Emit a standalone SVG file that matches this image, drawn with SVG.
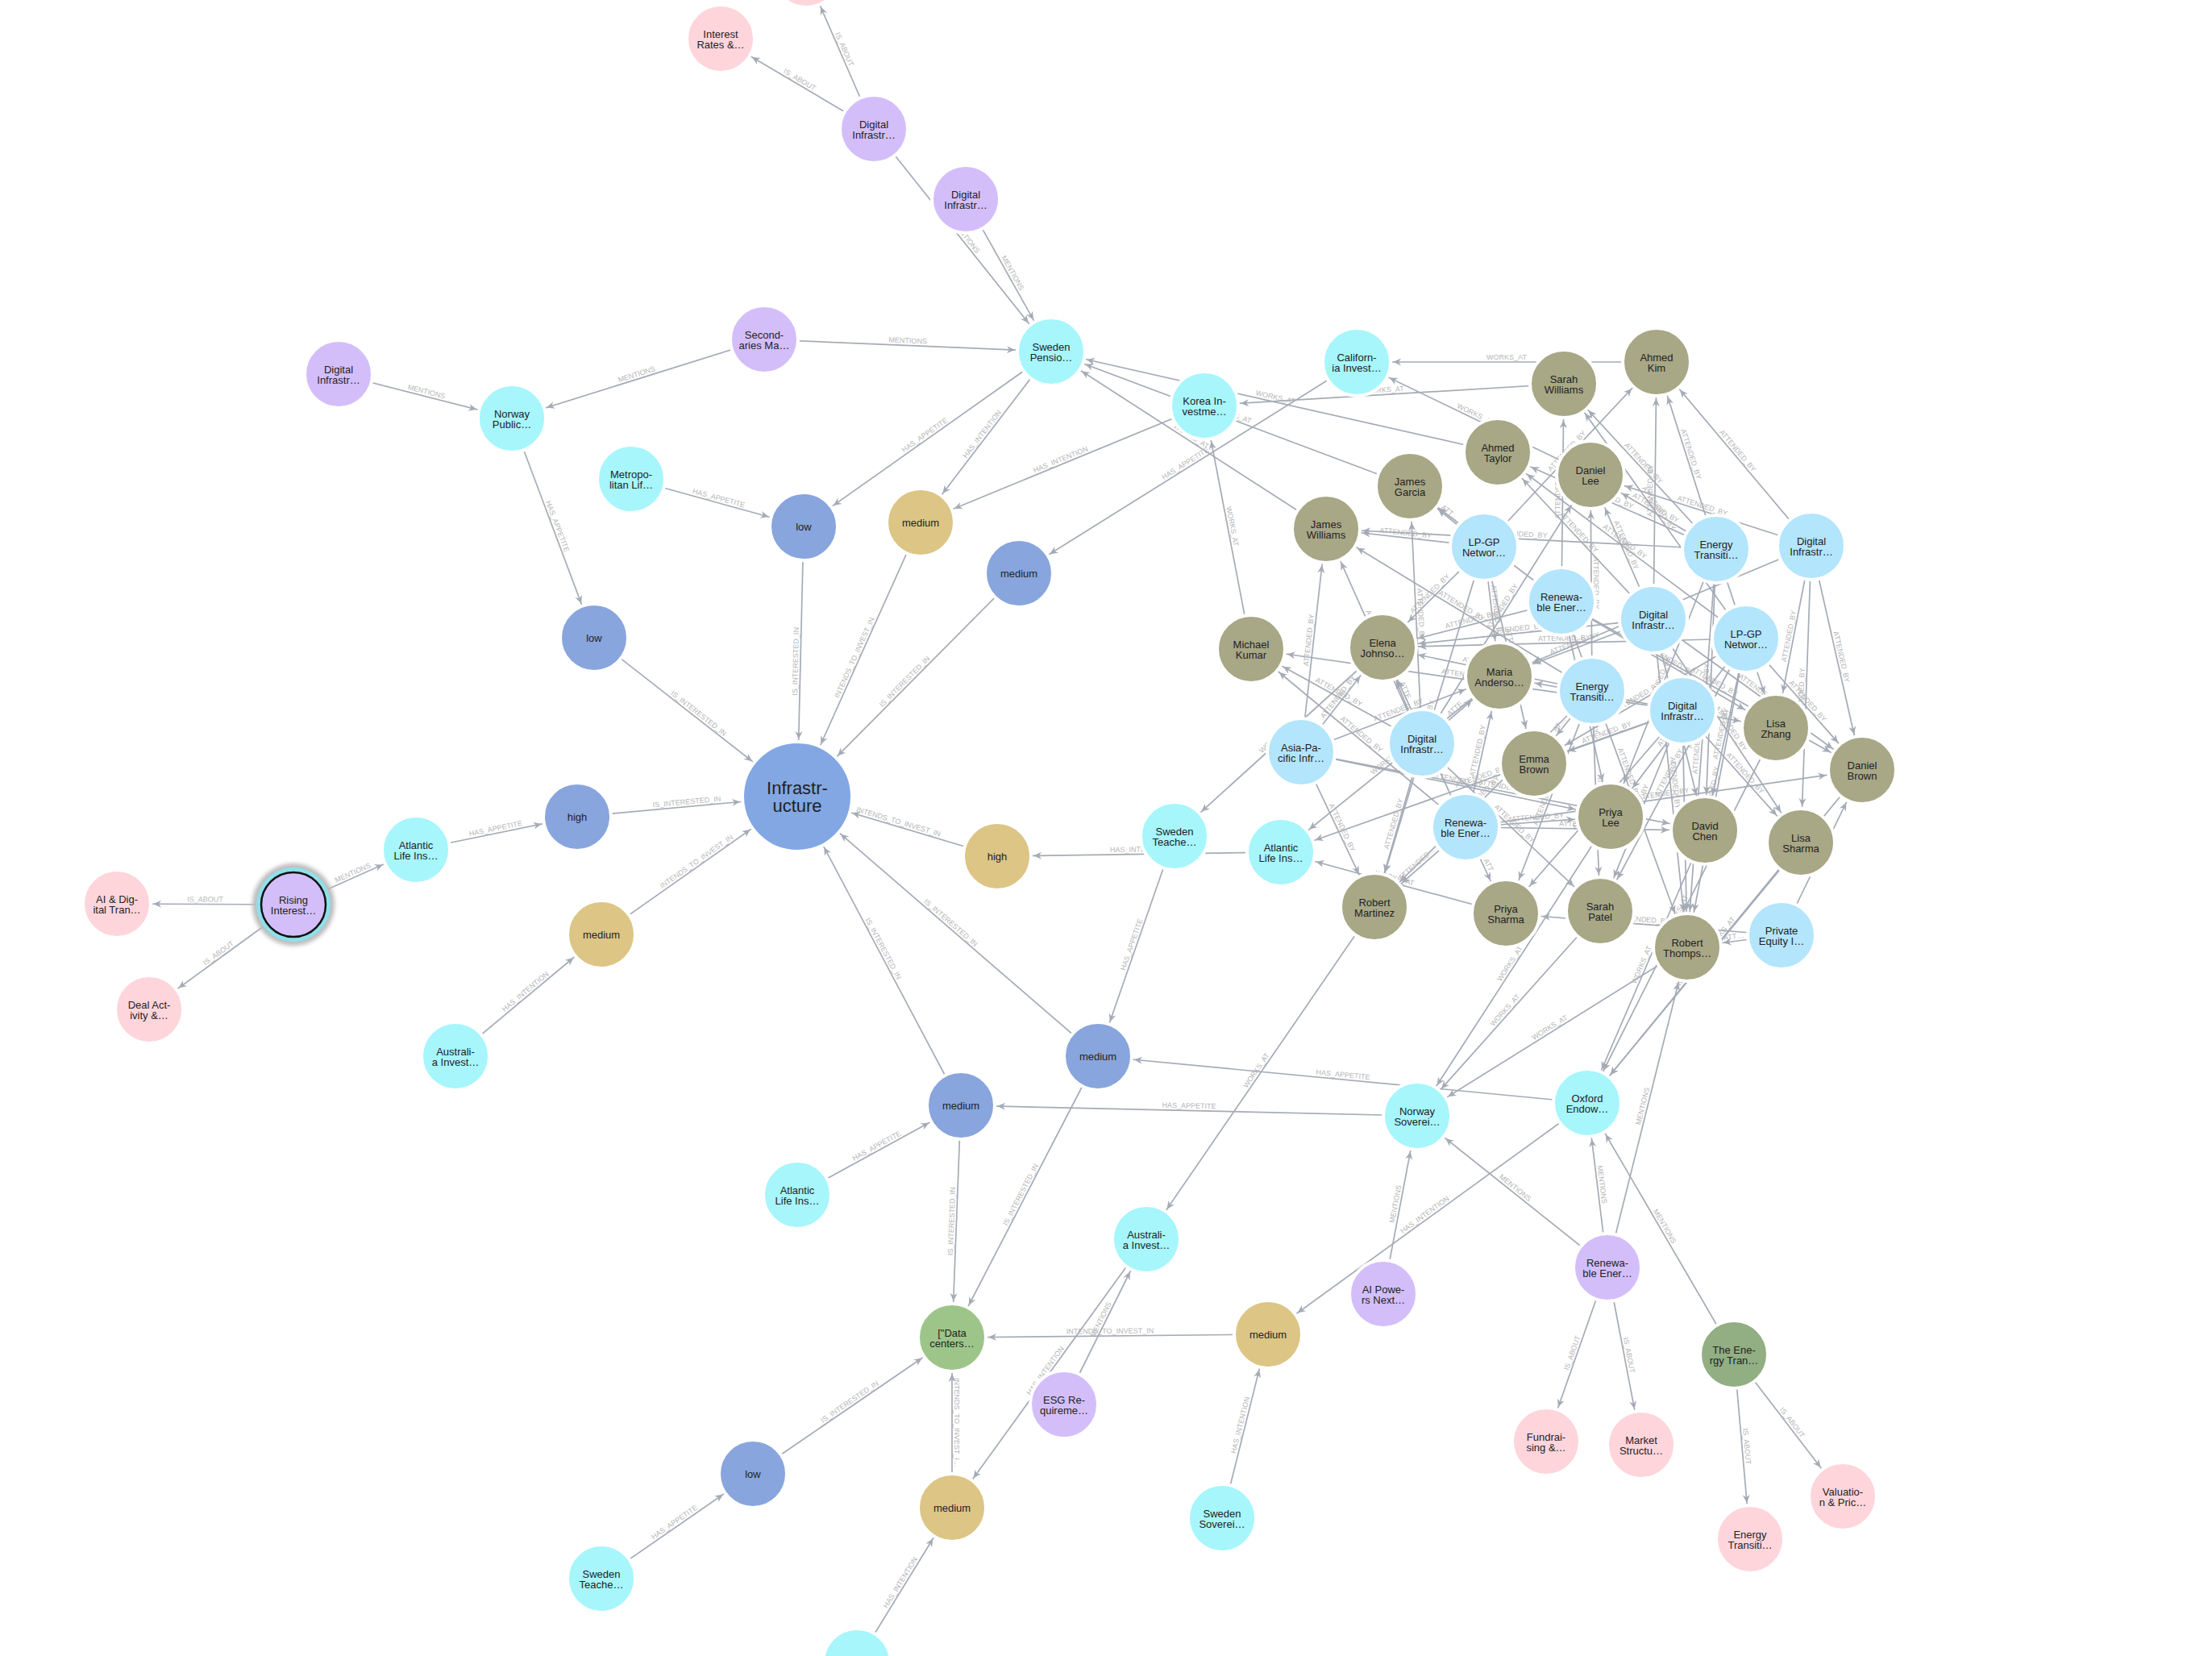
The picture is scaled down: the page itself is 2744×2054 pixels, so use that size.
<svg xmlns="http://www.w3.org/2000/svg" width="2744" height="2054" viewBox="0 0 2744 2054">
<style>
.e{stroke:#a5abb6;stroke-width:1.7;fill:none}
.l{font-family:"Liberation Sans",Arial,sans-serif;font-size:9px;fill:#b5b5b5;text-anchor:middle}
.t{font-family:"Liberation Sans",Arial,sans-serif;font-size:13px;fill:#222;text-anchor:middle;dominant-baseline:central}
.ti{font-family:"Liberation Sans",Arial,sans-serif;font-size:22px;fill:#222;text-anchor:middle;dominant-baseline:central}
.c{stroke:#fff;stroke-width:4}
.pk{fill:#ffd5dc}.pu{fill:#d3befa}.cy{fill:#a6f6fc}.lb{fill:#b3e5fc}.ol{fill:#a8a786}.bl{fill:#88a5dd}.go{fill:#dcc585}.gr{fill:#9dc58a}.dg{fill:#92ae83}.inf{fill:#82a7e3}
</style>
<defs>
<marker id="a" markerUnits="userSpaceOnUse" orient="auto" overflow="visible" markerWidth="1" markerHeight="1"><path d="M-45,0 L-55,-4.5 L-52,0 L-55,4.5 Z" fill="#a5abb6"/></marker>
<marker id="s" markerUnits="userSpaceOnUse" orient="auto" overflow="visible" markerWidth="1" markerHeight="1"><path d="M45,0 L55,-4.5 L52,0 L55,4.5 Z" fill="#a5abb6"/></marker>
<marker id="b" markerUnits="userSpaceOnUse" orient="auto" overflow="visible" markerWidth="1" markerHeight="1"><path d="M-71,0 L-81,-4.5 L-78,0 L-81,4.5 Z" fill="#a5abb6"/></marker>
<marker id="bs" markerUnits="userSpaceOnUse" orient="auto" overflow="visible" markerWidth="1" markerHeight="1"><path d="M71,0 L81,-4.5 L78,0 L81,4.5 Z" fill="#a5abb6"/></marker>
<filter id="glow" x="-50%" y="-50%" width="200%" height="200%"><feGaussianBlur stdDeviation="2.5"/></filter>
</defs>
<rect width="2744" height="2054" fill="#fff"/>
<g id="connectors">
<path id="e1" class="e" d="M1000 -33 L1084 160" marker-start="url(#s)"/><text class="l" dy="-3"><textPath href="#e1" startOffset="50%">IS_ABOUT</textPath></text>
<path id="e2" class="e" d="M894 48 L1084 160" marker-start="url(#s)"/><text class="l" dy="-3"><textPath href="#e2" startOffset="50%">IS_ABOUT</textPath></text>
<path id="e3" class="e" d="M1084 160 L1304 436" marker-end="url(#a)"/><text class="l" dy="-3"><textPath href="#e3" startOffset="50%">MENTIONS</textPath></text>
<path id="e4" class="e" d="M1198 247 L1304 436" marker-end="url(#a)"/><text class="l" dy="-3"><textPath href="#e4" startOffset="50%">MENTIONS</textPath></text>
<path id="e5" class="e" d="M948 421 L1304 436" marker-end="url(#a)"/><text class="l" dy="-3"><textPath href="#e5" startOffset="50%">MENTIONS</textPath></text>
<path id="e6" class="e" d="M635 519 L948 421" marker-start="url(#s)"/><text class="l" dy="-3"><textPath href="#e6" startOffset="50%">MENTIONS</textPath></text>
<path id="e7" class="e" d="M420 464 L635 519" marker-end="url(#a)"/><text class="l" dy="-3"><textPath href="#e7" startOffset="50%">MENTIONS</textPath></text>
<path id="e8" class="e" d="M635 519 L737 791" marker-end="url(#a)"/><text class="l" dy="-3"><textPath href="#e8" startOffset="50%">HAS_APPETITE</textPath></text>
<path id="e9" class="e" d="M783 594 L997 653" marker-end="url(#a)"/><text class="l" dy="-3"><textPath href="#e9" startOffset="50%">HAS_APPETITE</textPath></text>
<path id="e10" class="e" d="M997 653 L1304 436" marker-start="url(#s)"/><text class="l" dy="-3"><textPath href="#e10" startOffset="50%">HAS_APPETITE</textPath></text>
<path id="e11" class="e" d="M1142 648 L1304 436" marker-start="url(#s)"/><text class="l" dy="-3"><textPath href="#e11" startOffset="50%">HAS_INTENTION</textPath></text>
<path id="e12" class="e" d="M1142 648 L1494 503" marker-start="url(#s)"/><text class="l" dy="-3"><textPath href="#e12" startOffset="50%">HAS_INTENTION</textPath></text>
<path id="e13" class="e" d="M1264 711 L1683 449" marker-start="url(#s)"/><text class="l" dy="-3"><textPath href="#e13" startOffset="50%">HAS_APPETITE</textPath></text>
<path id="e14" class="e" d="M989 988 L997 653" marker-start="url(#bs)"/><text class="l" dy="-3"><textPath href="#e14" startOffset="50%">IS_INTERESTED_IN</textPath></text>
<path id="e15" class="e" d="M989 988 L1142 648" marker-start="url(#bs)"/><text class="l" dy="-3"><textPath href="#e15" startOffset="50%">INTENDS_TO_INVEST_IN</textPath></text>
<path id="e16" class="e" d="M989 988 L1264 711" marker-start="url(#bs)"/><text class="l" dy="-3"><textPath href="#e16" startOffset="50%">IS_INTERESTED_IN</textPath></text>
<path id="e17" class="e" d="M737 791 L989 988" marker-end="url(#b)"/><text class="l" dy="-3"><textPath href="#e17" startOffset="50%">IS_INTERESTED_IN</textPath></text>
<path id="e18" class="e" d="M716 1013 L989 988" marker-end="url(#b)"/><text class="l" dy="-3"><textPath href="#e18" startOffset="50%">IS_INTERESTED_IN</textPath></text>
<path id="e19" class="e" d="M746 1159 L989 988" marker-end="url(#b)"/><text class="l" dy="-3"><textPath href="#e19" startOffset="50%">INTENDS_TO_INVEST_IN</textPath></text>
<path id="e20" class="e" d="M989 988 L1237 1062" marker-start="url(#bs)"/><text class="l" dy="-3"><textPath href="#e20" startOffset="50%">INTENDS_TO_INVEST_IN</textPath></text>
<path id="e21" class="e" d="M1237 1062 L1589 1057" marker-start="url(#s)"/><text class="l" dy="-3"><textPath href="#e21" startOffset="50%">HAS_INTENTION</textPath></text>
<path id="e22" class="e" d="M1362 1310 L1457 1037" marker-start="url(#s)"/><text class="l" dy="-3"><textPath href="#e22" startOffset="50%">HAS_APPETITE</textPath></text>
<path id="e23" class="e" d="M1457 1037 L1715 803" marker-start="url(#s)"/><text class="l" dy="-3"><textPath href="#e23" startOffset="50%">WORKS_AT</textPath></text>
<path id="e24" class="e" d="M989 988 L1362 1310" marker-start="url(#bs)"/><text class="l" dy="-3"><textPath href="#e24" startOffset="50%">IS_INTERESTED_IN</textPath></text>
<path id="e25" class="e" d="M989 988 L1192 1371" marker-start="url(#bs)"/><text class="l" dy="-3"><textPath href="#e25" startOffset="50%">IS_INTERESTED_IN</textPath></text>
<path id="e26" class="e" d="M989 1482 L1192 1371" marker-end="url(#a)"/><text class="l" dy="-3"><textPath href="#e26" startOffset="50%">HAS_APPETITE</textPath></text>
<path id="e27" class="e" d="M1181 1659 L1192 1371" marker-start="url(#s)"/><text class="l" dy="-3"><textPath href="#e27" startOffset="50%">IS_INTERESTED_IN</textPath></text>
<path id="e28" class="e" d="M1181 1659 L1362 1310" marker-start="url(#s)"/><text class="l" dy="-3"><textPath href="#e28" startOffset="50%">IS_INTERESTED_IN</textPath></text>
<path id="e29" class="e" d="M1181 1659 L1573 1655" marker-start="url(#s)"/><text class="l" dy="-3"><textPath href="#e29" startOffset="50%">INTENDS_TO_INVEST_IN</textPath></text>
<path id="e30" class="e" d="M1516 1883 L1573 1655" marker-end="url(#a)"/><text class="l" dy="-3"><textPath href="#e30" startOffset="50%">HAS_INTENTION</textPath></text>
<path id="e31" class="e" d="M934 1828 L1181 1659" marker-end="url(#a)"/><text class="l" dy="-3"><textPath href="#e31" startOffset="50%">IS_INTERESTED_IN</textPath></text>
<path id="e32" class="e" d="M746 1958 L934 1828" marker-end="url(#a)"/><text class="l" dy="-3"><textPath href="#e32" startOffset="50%">HAS_APPETITE</textPath></text>
<path id="e33" class="e" d="M1181 1659 L1181 1870" marker-start="url(#s)"/><text class="l" dy="-3"><textPath href="#e33" startOffset="50%">INTENDS_TO_INVEST_I…</textPath></text>
<path id="e34" class="e" d="M1063 2062 L1181 1870" marker-end="url(#a)"/><text class="l" dy="-3"><textPath href="#e34" startOffset="50%">HAS_INTENTION</textPath></text>
<path id="e35" class="e" d="M1181 1870 L1422 1537" marker-start="url(#s)"/><text class="l" dy="-3"><textPath href="#e35" startOffset="50%">HAS_INTENTION</textPath></text>
<path id="e36" class="e" d="M1320 1742 L1422 1537" marker-end="url(#a)"/><text class="l" dy="-3"><textPath href="#e36" startOffset="50%">MENTIONS</textPath></text>
<path id="e37" class="e" d="M1422 1537 L1705 1125" marker-start="url(#s)"/><text class="l" dy="-3"><textPath href="#e37" startOffset="50%">WORKS_AT</textPath></text>
<path id="e38" class="e" d="M145 1121 L364 1122" marker-start="url(#s)"/><text class="l" dy="-3"><textPath href="#e38" startOffset="50%">IS_ABOUT</textPath></text>
<path id="e39" class="e" d="M185 1252 L364 1122" marker-start="url(#s)"/><text class="l" dy="-3"><textPath href="#e39" startOffset="50%">IS_ABOUT</textPath></text>
<path id="e40" class="e" d="M364 1122 L516 1054" marker-end="url(#a)"/><text class="l" dy="-3"><textPath href="#e40" startOffset="50%">MENTIONS</textPath></text>
<path id="e41" class="e" d="M516 1054 L716 1013" marker-end="url(#a)"/><text class="l" dy="-3"><textPath href="#e41" startOffset="50%">HAS_APPETITE</textPath></text>
<path id="e42" class="e" d="M565 1310 L746 1159" marker-end="url(#a)"/><text class="l" dy="-3"><textPath href="#e42" startOffset="50%">HAS_INTENTION</textPath></text>
<path id="e43" class="e" d="M1573 1655 L1969 1368" marker-start="url(#s)"/><text class="l" dy="-3"><textPath href="#e43" startOffset="50%">HAS_INTENTION</textPath></text>
<path id="e44" class="e" d="M1362 1310 L1969 1368" marker-start="url(#s)"/><text class="l" dy="-3"><textPath href="#e44" startOffset="50%">HAS_APPETITE</textPath></text>
<path id="e45" class="e" d="M1192 1371 L1758 1384" marker-start="url(#s)"/><text class="l" dy="-3"><textPath href="#e45" startOffset="50%">HAS_APPETITE</textPath></text>
<path id="e46" class="e" d="M1716 1605 L1758 1384" marker-end="url(#a)"/><text class="l" dy="-3"><textPath href="#e46" startOffset="50%">MENTIONS</textPath></text>
<path id="e47" class="e" d="M1758 1384 L1994 1572" marker-start="url(#s)"/><text class="l" dy="-3"><textPath href="#e47" startOffset="50%">MENTIONS</textPath></text>
<path id="e48" class="e" d="M1969 1368 L1994 1572" marker-start="url(#s)"/><text class="l" dy="-3"><textPath href="#e48" startOffset="50%">MENTIONS</textPath></text>
<path id="e49" class="e" d="M1969 1368 L2151 1680" marker-start="url(#s)"/><text class="l" dy="-3"><textPath href="#e49" startOffset="50%">MENTIONS</textPath></text>
<path id="e50" class="e" d="M1918 1788 L1994 1572" marker-start="url(#s)"/><text class="l" dy="-3"><textPath href="#e50" startOffset="50%">IS_ABOUT</textPath></text>
<path id="e51" class="e" d="M1994 1572 L2036 1792" marker-end="url(#a)"/><text class="l" dy="-3"><textPath href="#e51" startOffset="50%">IS_ABOUT</textPath></text>
<path id="e52" class="e" d="M2151 1680 L2171 1909" marker-end="url(#a)"/><text class="l" dy="-3"><textPath href="#e52" startOffset="50%">IS_ABOUT</textPath></text>
<path id="e53" class="e" d="M2151 1680 L2286 1856" marker-end="url(#a)"/><text class="l" dy="-3"><textPath href="#e53" startOffset="50%">IS_ABOUT</textPath></text>
<path id="e54" class="e" d="M1994 1572 L2093 1175" marker-end="url(#a)"/><text class="l" dy="-3"><textPath href="#e54" startOffset="50%">MENTIONS</textPath></text>
<path id="e55" class="e" d="M1758 1384 L1998 1013" marker-start="url(#s)"/><text class="l" dy="-3"><textPath href="#e55" startOffset="50%">WORKS_AT</textPath></text>
<path id="e56" class="e" d="M1758 1384 L1985 1130" marker-start="url(#s)"/><text class="l" dy="-3"><textPath href="#e56" startOffset="50%">WORKS_AT</textPath></text>
<path id="e57" class="e" d="M1758 1384 L2093 1175" marker-start="url(#s)"/><text class="l" dy="-3"><textPath href="#e57" startOffset="50%">WORKS_AT</textPath></text>
<path id="e58" class="e" d="M1969 1368 L2234 1045" marker-start="url(#s)"/><text class="l" dy="-3"><textPath href="#e58" startOffset="50%">WORKS_AT</textPath></text>
<path id="e59" class="e" d="M1969 1368 L2310 955" marker-start="url(#s)"/><text class="l" dy="-3"><textPath href="#e59" startOffset="50%">WORKS_AT</textPath></text>
<path id="e60" class="e" d="M1969 1368 L2115 1030" marker-start="url(#s)"/><text class="l" dy="-3"><textPath href="#e60" startOffset="50%">WORKS_AT</textPath></text>
<path id="e61" class="e" d="M1969 1368 L2203 903" marker-start="url(#s)"/><text class="l" dy="-3"><textPath href="#e61" startOffset="50%">WORKS_AT</textPath></text>
<path id="e62" class="e" d="M1683 449 L2055 449" marker-start="url(#s)"/><text class="l" dy="-3"><textPath href="#e62" startOffset="50%">WORKS_AT</textPath></text>
<path id="e63" class="e" d="M1494 503 L1940 476" marker-start="url(#s)"/><text class="l" dy="-3"><textPath href="#e63" startOffset="50%">WORKS_AT</textPath></text>
<path id="e64" class="e" d="M1304 436 L1858 561" marker-start="url(#s)"/><text class="l" dy="-3"><textPath href="#e64" startOffset="50%">WORKS_AT</textPath></text>
<path id="e65" class="e" d="M1304 436 L1749 603" marker-start="url(#s)"/><text class="l" dy="-3"><textPath href="#e65" startOffset="50%">WORKS_AT</textPath></text>
<path id="e66" class="e" d="M1304 436 L1645 656" marker-start="url(#s)"/><text class="l" dy="-3"><textPath href="#e66" startOffset="50%">WORKS_AT</textPath></text>
<path id="e67" class="e" d="M1494 503 L1552 805" marker-start="url(#s)"/><text class="l" dy="-3"><textPath href="#e67" startOffset="50%">WORKS_AT</textPath></text>
<path id="e68" class="e" d="M1683 449 L1973 589" marker-start="url(#s)"/><text class="l" dy="-3"><textPath href="#e68" startOffset="50%">WORKS_AT</textPath></text>
<path id="e69" class="e" d="M1589 1057 L1868 1133" marker-start="url(#s)"/><text class="l" dy="-3"><textPath href="#e69" startOffset="50%">WORKS_AT</textPath></text>
<path id="e70" class="e" d="M1589 1057 L1860 839" marker-start="url(#s)"/><text class="l" dy="-3"><textPath href="#e70" startOffset="50%">WORKS_AT</textPath></text>
<path id="e71" class="e" d="M1589 1057 L2087 881" marker-start="url(#s)"/><text class="l" dy="-3"><textPath href="#e71" startOffset="50%">ATTENDED_BY</textPath></text>
<path id="c1" class="e" d="M1645 656 L1841 678" marker-start="url(#s)"/><text class="l" dy="-3"><textPath href="#c1" startOffset="50%">ATTENDED_BY</textPath></text>
<path id="c2" class="e" d="M1749 603 L1841 678" marker-start="url(#s)"/><text class="l" dy="-3"><textPath href="#c2" startOffset="50%">ATT…</textPath></text>
<path id="c3" class="e" d="M1841 678 L2055 449" marker-end="url(#a)"/><text class="l" dy="-3"><textPath href="#c3" startOffset="50%">ATTENDED_BY</textPath></text>
<path id="c4" class="e" d="M1715 803 L1841 678" marker-start="url(#s)"/><text class="l" dy="-3"><textPath href="#c4" startOffset="50%">ATTENDED_BY</textPath></text>
<path id="c5" class="e" d="M1841 678 L1860 839" marker-end="url(#a)"/><text class="l" dy="-3"><textPath href="#c5" startOffset="50%">ATTENDED_BY</textPath></text>
<path id="c6" class="e" d="M1705 1125 L1841 678" marker-start="url(#s)"/><text class="l" dy="-3"><textPath href="#c6" startOffset="50%">ATTENDED_BY</textPath></text>
<path id="c7" class="e" d="M1841 678 L1903 947" marker-end="url(#a)"/><text class="l" dy="-3"><textPath href="#c7" startOffset="50%">ATTENDED_BY</textPath></text>
<path id="c8" class="e" d="M1937 746 L1940 476" marker-end="url(#a)"/><text class="l" dy="-3"><textPath href="#c8" startOffset="50%">ATTENDED_BY</textPath></text>
<path id="c9" class="e" d="M1715 803 L1937 746" marker-start="url(#s)"/><text class="l" dy="-3"><textPath href="#c9" startOffset="50%">ATTENDED_BY</textPath></text>
<path id="c10" class="e" d="M1749 603 L1937 746" marker-start="url(#s)"/><text class="l" dy="-3"><textPath href="#c10" startOffset="50%">ATTENDED_BY</textPath></text>
<path id="c11" class="e" d="M1937 746 L2203 903" marker-end="url(#a)"/><text class="l" dy="-3"><textPath href="#c11" startOffset="50%">ATTENDED_BY</textPath></text>
<path id="c12" class="e" d="M1937 746 L2310 955" marker-end="url(#a)"/><text class="l" dy="-3"><textPath href="#c12" startOffset="50%">ATTENDED_BY</textPath></text>
<path id="c13" class="e" d="M1937 746 L2093 1175" marker-end="url(#a)"/><text class="l" dy="-3"><textPath href="#c13" startOffset="50%">ATTENDED_BY</textPath></text>
<path id="c14" class="e" d="M1937 746 L1998 1013" marker-end="url(#a)"/><text class="l" dy="-3"><textPath href="#c14" startOffset="50%">ATTENDED_BY</textPath></text>
<path id="c15" class="e" d="M2051 768 L2055 449" marker-end="url(#a)"/><text class="l" dy="-3"><textPath href="#c15" startOffset="50%">ATTENDED_BY</textPath></text>
<path id="c16" class="e" d="M1973 589 L2051 768" marker-start="url(#s)"/><text class="l" dy="-3"><textPath href="#c16" startOffset="50%">ATTENDED_BY</textPath></text>
<path id="c17" class="e" d="M1858 561 L2051 768" marker-start="url(#s)"/><text class="l" dy="-3"><textPath href="#c17" startOffset="50%">ATTENDED_BY</textPath></text>
<path id="c18" class="e" d="M1715 803 L2051 768" marker-start="url(#s)"/><text class="l" dy="-3"><textPath href="#c18" startOffset="50%">ATTENDED_BY</textPath></text>
<path id="c19" class="e" d="M1860 839 L2051 768" marker-start="url(#s)"/><text class="l" dy="-3"><textPath href="#c19" startOffset="50%">ATTENDED_BY</textPath></text>
<path id="c20" class="e" d="M2051 768 L2115 1030" marker-end="url(#a)"/><text class="l" dy="-3"><textPath href="#c20" startOffset="50%">ATTENDED_BY</textPath></text>
<path id="c21" class="e" d="M2051 768 L2093 1175" marker-end="url(#a)"/><text class="l" dy="-3"><textPath href="#c21" startOffset="50%">ATTENDED_BY</textPath></text>
<path id="c22" class="e" d="M2051 768 L2310 955" marker-end="url(#a)"/><text class="l" dy="-3"><textPath href="#c22" startOffset="50%">ATTENDED_BY</textPath></text>
<path id="c23" class="e" d="M2051 768 L2234 1045" marker-end="url(#a)"/><text class="l" dy="-3"><textPath href="#c23" startOffset="50%">ATTENDED_BY</textPath></text>
<path id="c24" class="e" d="M1973 589 L1975 857" marker-start="url(#s)"/><text class="l" dy="-3"><textPath href="#c24" startOffset="50%">ATTENDED_BY</textPath></text>
<path id="c25" class="e" d="M1645 656 L1975 857" marker-start="url(#s)"/><text class="l" dy="-3"><textPath href="#c25" startOffset="50%">ATTENDED_BY</textPath></text>
<path id="c26" class="e" d="M1903 947 L1975 857" marker-start="url(#s)"/><text class="l" dy="-3"><textPath href="#c26" startOffset="50%">AT…</textPath></text>
<path id="c27" class="e" d="M1868 1133 L1975 857" marker-start="url(#s)"/><text class="l" dy="-3"><textPath href="#c27" startOffset="50%">ATTENDED_BY</textPath></text>
<path id="c28" class="e" d="M1705 1125 L1975 857" marker-start="url(#s)"/><text class="l" dy="-3"><textPath href="#c28" startOffset="50%">ATTENDED_BY</textPath></text>
<path id="c29" class="e" d="M1975 857 L1985 1130" marker-end="url(#a)"/><text class="l" dy="-3"><textPath href="#c29" startOffset="50%">ATTENDED_BY</textPath></text>
<path id="c30" class="e" d="M1715 803 L1975 857" marker-start="url(#s)"/><text class="l" dy="-3"><textPath href="#c30" startOffset="50%">ATTENDED_BY</textPath></text>
<path id="c31" class="e" d="M1903 947 L2087 881" marker-start="url(#s)"/><text class="l" dy="-3"><textPath href="#c31" startOffset="50%">ATTENDED_BY</textPath></text>
<path id="c32" class="e" d="M1868 1133 L2087 881" marker-start="url(#s)"/><text class="l" dy="-3"><textPath href="#c32" startOffset="50%">ATTENDED_BY</textPath></text>
<path id="c33" class="e" d="M2087 881 L2203 903" marker-end="url(#a)"/><text class="l" dy="-3"><textPath href="#c33" startOffset="50%">ATT…</textPath></text>
<path id="c34" class="e" d="M2087 881 L2234 1045" marker-end="url(#a)"/><text class="l" dy="-3"><textPath href="#c34" startOffset="50%">ATTENDED_BY</textPath></text>
<path id="c35" class="e" d="M1985 1130 L2087 881" marker-start="url(#s)"/><text class="l" dy="-3"><textPath href="#c35" startOffset="50%">ATTENDED_BY</textPath></text>
<path id="c36" class="e" d="M2087 881 L2093 1175" marker-end="url(#a)"/><text class="l" dy="-3"><textPath href="#c36" startOffset="50%">ATTENDED_BY</textPath></text>
<path id="c37" class="e" d="M1860 839 L2087 881" marker-start="url(#s)"/><text class="l" dy="-3"><textPath href="#c37" startOffset="50%">ATTENDED_BY</textPath></text>
<path id="c38" class="e" d="M1552 805 L2087 881" marker-start="url(#s)"/><text class="l" dy="-3"><textPath href="#c38" startOffset="50%">ATTENDED_BY</textPath></text>
<path id="c39" class="e" d="M2055 449 L2129 681" marker-start="url(#s)"/><text class="l" dy="-3"><textPath href="#c39" startOffset="50%">ATTENDED_BY</textPath></text>
<path id="c40" class="e" d="M1940 476 L2129 681" marker-start="url(#s)"/><text class="l" dy="-3"><textPath href="#c40" startOffset="50%">ATTENDED_BY</textPath></text>
<path id="c41" class="e" d="M1858 561 L2129 681" marker-start="url(#s)"/><text class="l" dy="-3"><textPath href="#c41" startOffset="50%">ATTENDED_BY</textPath></text>
<path id="c42" class="e" d="M1973 589 L2129 681" marker-start="url(#s)"/><text class="l" dy="-3"><textPath href="#c42" startOffset="50%">ATTENDED_BY</textPath></text>
<path id="c43" class="e" d="M1645 656 L2129 681" marker-start="url(#s)"/><text class="l" dy="-3"><textPath href="#c43" startOffset="50%">ATTENDED_BY</textPath></text>
<path id="c44" class="e" d="M2115 1030 L2129 681" marker-start="url(#s)"/><text class="l" dy="-3"><textPath href="#c44" startOffset="50%">ATTENDED_BY</textPath></text>
<path id="c45" class="e" d="M2093 1175 L2129 681" marker-start="url(#s)"/><text class="l" dy="-3"><textPath href="#c45" startOffset="50%">ATTENDED_BY</textPath></text>
<path id="c46" class="e" d="M1998 1013 L2129 681" marker-start="url(#s)"/><text class="l" dy="-3"><textPath href="#c46" startOffset="50%">ATTENDED_BY</textPath></text>
<path id="c47" class="e" d="M2129 681 L2203 903" marker-end="url(#a)"/><text class="l" dy="-3"><textPath href="#c47" startOffset="50%">ATTENDED_BY</textPath></text>
<path id="c48" class="e" d="M2055 449 L2247 677" marker-start="url(#s)"/><text class="l" dy="-3"><textPath href="#c48" startOffset="50%">ATTENDED_BY</textPath></text>
<path id="c49" class="e" d="M2247 677 L2310 955" marker-end="url(#a)"/><text class="l" dy="-3"><textPath href="#c49" startOffset="50%">ATTENDED_BY</textPath></text>
<path id="c50" class="e" d="M2203 903 L2247 677" marker-start="url(#s)"/><text class="l" dy="-3"><textPath href="#c50" startOffset="50%">ATTENDED_BY</textPath></text>
<path id="c51" class="e" d="M1860 839 L2247 677" marker-start="url(#s)"/><text class="l" dy="-3"><textPath href="#c51" startOffset="50%">ATTENDED_BY</textPath></text>
<path id="c52" class="e" d="M2234 1045 L2247 677" marker-start="url(#s)"/><text class="l" dy="-3"><textPath href="#c52" startOffset="50%">ATTENDED_BY</textPath></text>
<path id="c53" class="e" d="M1973 589 L2247 677" marker-start="url(#s)"/><text class="l" dy="-3"><textPath href="#c53" startOffset="50%">ATTENDED_BY</textPath></text>
<path id="c54" class="e" d="M1940 476 L2166 792" marker-start="url(#s)"/><text class="l" dy="-3"><textPath href="#c54" startOffset="50%">ATTENDED_BY</textPath></text>
<path id="c55" class="e" d="M1858 561 L2166 792" marker-start="url(#s)"/><text class="l" dy="-3"><textPath href="#c55" startOffset="50%">ATTENDED_BY</textPath></text>
<path id="c56" class="e" d="M1715 803 L2166 792" marker-start="url(#s)"/><text class="l" dy="-3"><textPath href="#c56" startOffset="50%">ATTENDED_BY</textPath></text>
<path id="c57" class="e" d="M1903 947 L2166 792" marker-start="url(#s)"/><text class="l" dy="-3"><textPath href="#c57" startOffset="50%">ATTENDED_BY</textPath></text>
<path id="c58" class="e" d="M1985 1130 L2166 792" marker-start="url(#s)"/><text class="l" dy="-3"><textPath href="#c58" startOffset="50%">ATTENDED_BY</textPath></text>
<path id="c59" class="e" d="M2093 1175 L2166 792" marker-start="url(#s)"/><text class="l" dy="-3"><textPath href="#c59" startOffset="50%">ATTENDED_BY</textPath></text>
<path id="c60" class="e" d="M2166 792 L2310 955" marker-end="url(#a)"/><text class="l" dy="-3"><textPath href="#c60" startOffset="50%">ATTENDED_BY</textPath></text>
<path id="c61" class="e" d="M2115 1030 L2166 792" marker-start="url(#s)"/><text class="l" dy="-3"><textPath href="#c61" startOffset="50%">ATTENDED_BY</textPath></text>
<path id="c62" class="e" d="M1998 1013 L2166 792" marker-start="url(#s)"/><text class="l" dy="-3"><textPath href="#c62" startOffset="50%">ATTENDED_BY</textPath></text>
<path id="c63" class="e" d="M1614 933 L1645 656" marker-end="url(#a)"/><text class="l" dy="-3"><textPath href="#c63" startOffset="50%">ATTENDED_BY</textPath></text>
<path id="c64" class="e" d="M1614 933 L1705 1125" marker-end="url(#a)"/><text class="l" dy="-3"><textPath href="#c64" startOffset="50%">ATTENDED_BY</textPath></text>
<path id="c65" class="e" d="M1614 933 L1998 1013" marker-end="url(#a)"/><text class="l" dy="-3"><textPath href="#c65" startOffset="50%">ATTENDED_BY</textPath></text>
<path id="c66" class="e" d="M1614 933 L1860 839" marker-end="url(#a)"/><text class="l" dy="-3"><textPath href="#c66" startOffset="50%">ATTENDED_BY</textPath></text>
<path id="c67" class="e" d="M1614 933 L2115 1030" marker-end="url(#a)"/><text class="l" dy="-3"><textPath href="#c67" startOffset="50%">ATTENDED_BY</textPath></text>
<path id="c68" class="e" d="M1614 933 L1715 803" marker-end="url(#a)"/><text class="l" dy="-3"><textPath href="#c68" startOffset="50%">ATTENDED_BY</textPath></text>
<path id="c69" class="e" d="M1645 656 L1764 922" marker-start="url(#s)"/><text class="l" dy="-3"><textPath href="#c69" startOffset="50%">ATTENDED_BY</textPath></text>
<path id="c70" class="e" d="M1749 603 L1764 922" marker-start="url(#s)"/><text class="l" dy="-3"><textPath href="#c70" startOffset="50%">ATTENDED_BY</textPath></text>
<path id="c71" class="e" d="M1764 922 L1973 589" marker-end="url(#a)"/><text class="l" dy="-3"><textPath href="#c71" startOffset="50%">ATTENDED_BY</textPath></text>
<path id="c72" class="e" d="M1552 805 L1764 922" marker-start="url(#s)"/><text class="l" dy="-3"><textPath href="#c72" startOffset="50%">ATTENDED_BY</textPath></text>
<path id="c73" class="e" d="M1705 1125 L1764 922" marker-start="url(#s)"/><text class="l" dy="-3"><textPath href="#c73" startOffset="50%">ATTENDED_BY</textPath></text>
<path id="c74" class="e" d="M1764 922 L1985 1130" marker-end="url(#a)"/><text class="l" dy="-3"><textPath href="#c74" startOffset="50%">ATTENDED_BY</textPath></text>
<path id="c75" class="e" d="M1764 922 L1860 839" marker-end="url(#a)"/><text class="l" dy="-3"><textPath href="#c75" startOffset="50%">ATTE…</textPath></text>
<path id="c76" class="e" d="M1715 803 L1764 922" marker-start="url(#s)"/><text class="l" dy="-3"><textPath href="#c76" startOffset="50%">ATTE…</textPath></text>
<path id="c77" class="e" d="M1552 805 L1818 1026" marker-start="url(#s)"/><text class="l" dy="-3"><textPath href="#c77" startOffset="50%">ATTENDED_BY</textPath></text>
<path id="c78" class="e" d="M1705 1125 L1818 1026" marker-start="url(#s)"/><text class="l" dy="-3"><textPath href="#c78" startOffset="50%">ATTENDED…</textPath></text>
<path id="c79" class="e" d="M1818 1026 L1868 1133" marker-end="url(#a)"/><text class="l" dy="-3"><textPath href="#c79" startOffset="50%">ATT…</textPath></text>
<path id="c80" class="e" d="M1818 1026 L1998 1013" marker-end="url(#a)"/><text class="l" dy="-3"><textPath href="#c80" startOffset="50%">ATTENDED_BY</textPath></text>
<path id="c81" class="e" d="M1818 1026 L1860 839" marker-end="url(#a)"/><text class="l" dy="-3"><textPath href="#c81" startOffset="50%">ATTENDED_BY</textPath></text>
<path id="c82" class="e" d="M1818 1026 L2310 955" marker-end="url(#a)"/><text class="l" dy="-3"><textPath href="#c82" startOffset="50%">ATTENDED_BY</textPath></text>
<path id="c83" class="e" d="M1818 1026 L2115 1030" marker-end="url(#a)"/><text class="l" dy="-3"><textPath href="#c83" startOffset="50%">ATTENDED_BY</textPath></text>
<path id="c84" class="e" d="M1715 803 L1818 1026" marker-start="url(#s)"/><text class="l" dy="-3"><textPath href="#c84" startOffset="50%">ATTENDED_BY</textPath></text>
<path id="c85" class="e" d="M2093 1175 L2210 1160" marker-start="url(#s)"/><text class="l" dy="-3"><textPath href="#c85" startOffset="50%">ATT…</textPath></text>
<path id="c86" class="e" d="M2210 1160 L2310 955" marker-end="url(#a)"/><text class="l" dy="-3"><textPath href="#c86" startOffset="50%">ATTENDED_BY</textPath></text>
<path id="c87" class="e" d="M1868 1133 L2210 1160" marker-start="url(#s)"/><text class="l" dy="-3"><textPath href="#c87" startOffset="50%">ATTENDED_BY</textPath></text>
</g>
<g id="nodes">
<g id="n-toppink"><circle class="c pk" cx="1000" cy="-33" r="42"/></g>
<g id="n-interest"><circle class="c pk" cx="894" cy="48" r="42"/><text class="t" x="894" y="48"><tspan x="894" dy="-6.5">Interest</tspan><tspan x="894" dy="13">Rates &amp;…</tspan></text></g>
<g id="n-di1"><circle class="c pu" cx="1084" cy="160" r="42"/><text class="t" x="1084" y="160"><tspan x="1084" dy="-6.5">Digital</tspan><tspan x="1084" dy="13">Infrastr…</tspan></text></g>
<g id="n-di2"><circle class="c pu" cx="1198" cy="247" r="42"/><text class="t" x="1198" y="247"><tspan x="1198" dy="-6.5">Digital</tspan><tspan x="1198" dy="13">Infrastr…</tspan></text></g>
<g id="n-sec"><circle class="c pu" cx="948" cy="421" r="42"/><text class="t" x="948" y="421"><tspan x="948" dy="-6.5">Second-</tspan><tspan x="948" dy="13">aries Ma…</tspan></text></g>
<g id="n-swp"><circle class="c cy" cx="1304" cy="436" r="42"/><text class="t" x="1304" y="436"><tspan x="1304" dy="-6.5">Sweden</tspan><tspan x="1304" dy="13">Pensio…</tspan></text></g>
<g id="n-dil"><circle class="c pu" cx="420" cy="464" r="42"/><text class="t" x="420" y="464"><tspan x="420" dy="-6.5">Digital</tspan><tspan x="420" dy="13">Infrastr…</tspan></text></g>
<g id="n-nop"><circle class="c cy" cx="635" cy="519" r="42"/><text class="t" x="635" y="519"><tspan x="635" dy="-6.5">Norway</tspan><tspan x="635" dy="13">Public…</tspan></text></g>
<g id="n-met"><circle class="c cy" cx="783" cy="594" r="42"/><text class="t" x="783" y="594"><tspan x="783" dy="-6.5">Metropo-</tspan><tspan x="783" dy="13">litan Lif…</tspan></text></g>
<g id="n-low1"><circle class="c bl" cx="997" cy="653" r="42"/><text class="t" x="997" y="653">low</text></g>
<g id="n-medg1"><circle class="c go" cx="1142" cy="648" r="42"/><text class="t" x="1142" y="648">medium</text></g>
<g id="n-medb1"><circle class="c bl" cx="1264" cy="711" r="42"/><text class="t" x="1264" y="711">medium</text></g>
<g id="n-low2"><circle class="c bl" cx="737" cy="791" r="42"/><text class="t" x="737" y="791">low</text></g>
<g id="n-inf"><circle class="c inf" cx="989" cy="988" r="68"/><text class="ti" x="989" y="988"><tspan x="989" dy="-11">Infrastr-</tspan><tspan x="989" dy="22">ucture</tspan></text></g>
<g id="n-high"><circle class="c bl" cx="716" cy="1013" r="42"/><text class="t" x="716" y="1013">high</text></g>
<g id="n-medg2"><circle class="c go" cx="746" cy="1159" r="42"/><text class="t" x="746" y="1159">medium</text></g>
<g id="n-highg"><circle class="c go" cx="1237" cy="1062" r="42"/><text class="t" x="1237" y="1062">high</text></g>
<g id="n-swt1"><circle class="c cy" cx="1457" cy="1037" r="42"/><text class="t" x="1457" y="1037"><tspan x="1457" dy="-6.5">Sweden</tspan><tspan x="1457" dy="13">Teache…</tspan></text></g>
<g id="n-atl1"><circle class="c cy" cx="516" cy="1054" r="42"/><text class="t" x="516" y="1054"><tspan x="516" dy="-6.5">Atlantic</tspan><tspan x="516" dy="13">Life Ins…</tspan></text></g>
<g id="n-rising"><circle cx="364" cy="1122" r="51" fill="#bdbdbd" filter="url(#glow)"/><circle cx="364" cy="1122" r="46" fill="#8ee0ea"/><circle class="pu" cx="364" cy="1122" r="40" stroke="#111" stroke-width="2.5"/><text class="t" x="364" y="1122"><tspan x="364" dy="-6.5">Rising</tspan><tspan x="364" dy="13">Interest…</tspan></text></g>
<g id="n-aidig"><circle class="c pk" cx="145" cy="1121" r="42"/><text class="t" x="145" y="1121"><tspan x="145" dy="-6.5">AI &amp; Dig-</tspan><tspan x="145" dy="13">ital Tran…</tspan></text></g>
<g id="n-deal"><circle class="c pk" cx="185" cy="1252" r="42"/><text class="t" x="185" y="1252"><tspan x="185" dy="-6.5">Deal Act-</tspan><tspan x="185" dy="13">ivity &amp;…</tspan></text></g>
<g id="n-aus1"><circle class="c cy" cx="565" cy="1310" r="42"/><text class="t" x="565" y="1310"><tspan x="565" dy="-6.5">Australi-</tspan><tspan x="565" dy="13">a Invest…</tspan></text></g>
<g id="n-kor"><circle class="c cy" cx="1494" cy="503" r="42"/><text class="t" x="1494" y="503"><tspan x="1494" dy="-6.5">Korea In-</tspan><tspan x="1494" dy="13">vestme…</tspan></text></g>
<g id="n-cal"><circle class="c cy" cx="1683" cy="449" r="42"/><text class="t" x="1683" y="449"><tspan x="1683" dy="-6.5">Californ-</tspan><tspan x="1683" dy="13">ia Invest…</tspan></text></g>
<g id="n-medb2"><circle class="c bl" cx="1362" cy="1310" r="42"/><text class="t" x="1362" y="1310">medium</text></g>
<g id="n-medb3"><circle class="c bl" cx="1192" cy="1371" r="42"/><text class="t" x="1192" y="1371">medium</text></g>
<g id="n-atl3"><circle class="c cy" cx="989" cy="1482" r="42"/><text class="t" x="989" y="1482"><tspan x="989" dy="-6.5">Atlantic</tspan><tspan x="989" dy="13">Life Ins…</tspan></text></g>
<g id="n-aus2"><circle class="c cy" cx="1422" cy="1537" r="42"/><text class="t" x="1422" y="1537"><tspan x="1422" dy="-6.5">Australi-</tspan><tspan x="1422" dy="13">a Invest…</tspan></text></g>
<g id="n-dc"><circle class="c gr" cx="1181" cy="1659" r="42"/><text class="t" x="1181" y="1659"><tspan x="1181" dy="-6.5">["Data</tspan><tspan x="1181" dy="13">centers…</tspan></text></g>
<g id="n-medg3"><circle class="c go" cx="1573" cy="1655" r="42"/><text class="t" x="1573" y="1655">medium</text></g>
<g id="n-aipow"><circle class="c pu" cx="1716" cy="1605" r="42"/><text class="t" x="1716" y="1605"><tspan x="1716" dy="-6.5">AI Powe-</tspan><tspan x="1716" dy="13">rs Next…</tspan></text></g>
<g id="n-esg"><circle class="c pu" cx="1320" cy="1742" r="42"/><text class="t" x="1320" y="1742"><tspan x="1320" dy="-6.5">ESG Re-</tspan><tspan x="1320" dy="13">quireme…</tspan></text></g>
<g id="n-nos"><circle class="c cy" cx="1758" cy="1384" r="42"/><text class="t" x="1758" y="1384"><tspan x="1758" dy="-6.5">Norway</tspan><tspan x="1758" dy="13">Soverei…</tspan></text></g>
<g id="n-oxf"><circle class="c cy" cx="1969" cy="1368" r="42"/><text class="t" x="1969" y="1368"><tspan x="1969" dy="-6.5">Oxford</tspan><tspan x="1969" dy="13">Endow…</tspan></text></g>
<g id="n-renp"><circle class="c pu" cx="1994" cy="1572" r="42"/><text class="t" x="1994" y="1572"><tspan x="1994" dy="-6.5">Renewa-</tspan><tspan x="1994" dy="13">ble Ener…</tspan></text></g>
<g id="n-etg"><circle class="c dg" cx="2151" cy="1680" r="42"/><text class="t" x="2151" y="1680"><tspan x="2151" dy="-6.5">The Ene-</tspan><tspan x="2151" dy="13">rgy Tran…</tspan></text></g>
<g id="n-fund"><circle class="c pk" cx="1918" cy="1788" r="42"/><text class="t" x="1918" y="1788"><tspan x="1918" dy="-6.5">Fundrai-</tspan><tspan x="1918" dy="13">sing &amp;…</tspan></text></g>
<g id="n-mkt"><circle class="c pk" cx="2036" cy="1792" r="42"/><text class="t" x="2036" y="1792"><tspan x="2036" dy="-6.5">Market</tspan><tspan x="2036" dy="13">Structu…</tspan></text></g>
<g id="n-val"><circle class="c pk" cx="2286" cy="1856" r="42"/><text class="t" x="2286" y="1856"><tspan x="2286" dy="-6.5">Valuatio-</tspan><tspan x="2286" dy="13">n &amp; Pric…</tspan></text></g>
<g id="n-etp"><circle class="c pk" cx="2171" cy="1909" r="42"/><text class="t" x="2171" y="1909"><tspan x="2171" dy="-6.5">Energy</tspan><tspan x="2171" dy="13">Transiti…</tspan></text></g>
<g id="n-low3"><circle class="c bl" cx="934" cy="1828" r="42"/><text class="t" x="934" y="1828">low</text></g>
<g id="n-medg4"><circle class="c go" cx="1181" cy="1870" r="42"/><text class="t" x="1181" y="1870">medium</text></g>
<g id="n-sws"><circle class="c cy" cx="1516" cy="1883" r="42"/><text class="t" x="1516" y="1883"><tspan x="1516" dy="-6.5">Sweden</tspan><tspan x="1516" dy="13">Soverei…</tspan></text></g>
<g id="n-swt2"><circle class="c cy" cx="746" cy="1958" r="42"/><text class="t" x="746" y="1958"><tspan x="746" dy="-6.5">Sweden</tspan><tspan x="746" dy="13">Teache…</tspan></text></g>
<g id="n-cyb"><circle class="c cy" cx="1063" cy="2062" r="42"/></g>
<g id="n-atl2"><circle class="c cy" cx="1589" cy="1057" r="42"/><text class="t" x="1589" y="1057"><tspan x="1589" dy="-6.5">Atlantic</tspan><tspan x="1589" dy="13">Life Ins…</tspan></text></g>
<g id="n-lp1"><circle class="c lb" cx="1841" cy="678" r="42"/><text class="t" x="1841" y="678"><tspan x="1841" dy="-6.5">LP-GP</tspan><tspan x="1841" dy="13">Networ…</tspan></text></g>
<g id="n-ren1"><circle class="c lb" cx="1937" cy="746" r="42"/><text class="t" x="1937" y="746"><tspan x="1937" dy="-6.5">Renewa-</tspan><tspan x="1937" dy="13">ble Ener…</tspan></text></g>
<g id="n-dic"><circle class="c lb" cx="2051" cy="768" r="42"/><text class="t" x="2051" y="768"><tspan x="2051" dy="-6.5">Digital</tspan><tspan x="2051" dy="13">Infrastr…</tspan></text></g>
<g id="n-et1"><circle class="c lb" cx="1975" cy="857" r="42"/><text class="t" x="1975" y="857"><tspan x="1975" dy="-6.5">Energy</tspan><tspan x="1975" dy="13">Transiti…</tspan></text></g>
<g id="n-dilo"><circle class="c lb" cx="2087" cy="881" r="42"/><text class="t" x="2087" y="881"><tspan x="2087" dy="-6.5">Digital</tspan><tspan x="2087" dy="13">Infrastr…</tspan></text></g>
<g id="n-et2"><circle class="c lb" cx="2129" cy="681" r="42"/><text class="t" x="2129" y="681"><tspan x="2129" dy="-6.5">Energy</tspan><tspan x="2129" dy="13">Transiti…</tspan></text></g>
<g id="n-dir"><circle class="c lb" cx="2247" cy="677" r="42"/><text class="t" x="2247" y="677"><tspan x="2247" dy="-6.5">Digital</tspan><tspan x="2247" dy="13">Infrastr…</tspan></text></g>
<g id="n-lp2"><circle class="c lb" cx="2166" cy="792" r="42"/><text class="t" x="2166" y="792"><tspan x="2166" dy="-6.5">LP-GP</tspan><tspan x="2166" dy="13">Networ…</tspan></text></g>
<g id="n-asia"><circle class="c lb" cx="1614" cy="933" r="42"/><text class="t" x="1614" y="933"><tspan x="1614" dy="-6.5">Asia-Pa-</tspan><tspan x="1614" dy="13">cific Infr…</tspan></text></g>
<g id="n-dim"><circle class="c lb" cx="1764" cy="922" r="42"/><text class="t" x="1764" y="922"><tspan x="1764" dy="-6.5">Digital</tspan><tspan x="1764" dy="13">Infrastr…</tspan></text></g>
<g id="n-ren2"><circle class="c lb" cx="1818" cy="1026" r="42"/><text class="t" x="1818" y="1026"><tspan x="1818" dy="-6.5">Renewa-</tspan><tspan x="1818" dy="13">ble Ener…</tspan></text></g>
<g id="n-pe"><circle class="c lb" cx="2210" cy="1160" r="42"/><text class="t" x="2210" y="1160"><tspan x="2210" dy="-6.5">Private</tspan><tspan x="2210" dy="13">Equity I…</tspan></text></g>
<g id="n-swil"><circle class="c ol" cx="1940" cy="476" r="42"/><text class="t" x="1940" y="476"><tspan x="1940" dy="-6.5">Sarah</tspan><tspan x="1940" dy="13">Williams</tspan></text></g>
<g id="n-akim"><circle class="c ol" cx="2055" cy="449" r="42"/><text class="t" x="2055" y="449"><tspan x="2055" dy="-6.5">Ahmed</tspan><tspan x="2055" dy="13">Kim</tspan></text></g>
<g id="n-atay"><circle class="c ol" cx="1858" cy="561" r="42"/><text class="t" x="1858" y="561"><tspan x="1858" dy="-6.5">Ahmed</tspan><tspan x="1858" dy="13">Taylor</tspan></text></g>
<g id="n-dlee"><circle class="c ol" cx="1973" cy="589" r="42"/><text class="t" x="1973" y="589"><tspan x="1973" dy="-6.5">Daniel</tspan><tspan x="1973" dy="13">Lee</tspan></text></g>
<g id="n-jgar"><circle class="c ol" cx="1749" cy="603" r="42"/><text class="t" x="1749" y="603"><tspan x="1749" dy="-6.5">James</tspan><tspan x="1749" dy="13">Garcia</tspan></text></g>
<g id="n-jwil"><circle class="c ol" cx="1645" cy="656" r="42"/><text class="t" x="1645" y="656"><tspan x="1645" dy="-6.5">James</tspan><tspan x="1645" dy="13">Williams</tspan></text></g>
<g id="n-mkum"><circle class="c ol" cx="1552" cy="805" r="42"/><text class="t" x="1552" y="805"><tspan x="1552" dy="-6.5">Michael</tspan><tspan x="1552" dy="13">Kumar</tspan></text></g>
<g id="n-ejoh"><circle class="c ol" cx="1715" cy="803" r="42"/><text class="t" x="1715" y="803"><tspan x="1715" dy="-6.5">Elena</tspan><tspan x="1715" dy="13">Johnso…</tspan></text></g>
<g id="n-mand"><circle class="c ol" cx="1860" cy="839" r="42"/><text class="t" x="1860" y="839"><tspan x="1860" dy="-6.5">Maria</tspan><tspan x="1860" dy="13">Anderso…</tspan></text></g>
<g id="n-ebro"><circle class="c ol" cx="1903" cy="947" r="42"/><text class="t" x="1903" y="947"><tspan x="1903" dy="-6.5">Emma</tspan><tspan x="1903" dy="13">Brown</tspan></text></g>
<g id="n-plee"><circle class="c ol" cx="1998" cy="1013" r="42"/><text class="t" x="1998" y="1013"><tspan x="1998" dy="-6.5">Priya</tspan><tspan x="1998" dy="13">Lee</tspan></text></g>
<g id="n-rmar"><circle class="c ol" cx="1705" cy="1125" r="42"/><text class="t" x="1705" y="1125"><tspan x="1705" dy="-6.5">Robert</tspan><tspan x="1705" dy="13">Martinez</tspan></text></g>
<g id="n-psha"><circle class="c ol" cx="1868" cy="1133" r="42"/><text class="t" x="1868" y="1133"><tspan x="1868" dy="-6.5">Priya</tspan><tspan x="1868" dy="13">Sharma</tspan></text></g>
<g id="n-spat"><circle class="c ol" cx="1985" cy="1130" r="42"/><text class="t" x="1985" y="1130"><tspan x="1985" dy="-6.5">Sarah</tspan><tspan x="1985" dy="13">Patel</tspan></text></g>
<g id="n-rtho"><circle class="c ol" cx="2093" cy="1175" r="42"/><text class="t" x="2093" y="1175"><tspan x="2093" dy="-6.5">Robert</tspan><tspan x="2093" dy="13">Thomps…</tspan></text></g>
<g id="n-lzha"><circle class="c ol" cx="2203" cy="903" r="42"/><text class="t" x="2203" y="903"><tspan x="2203" dy="-6.5">Lisa</tspan><tspan x="2203" dy="13">Zhang</tspan></text></g>
<g id="n-dbro"><circle class="c ol" cx="2310" cy="955" r="42"/><text class="t" x="2310" y="955"><tspan x="2310" dy="-6.5">Daniel</tspan><tspan x="2310" dy="13">Brown</tspan></text></g>
<g id="n-dche"><circle class="c ol" cx="2115" cy="1030" r="42"/><text class="t" x="2115" y="1030"><tspan x="2115" dy="-6.5">David</tspan><tspan x="2115" dy="13">Chen</tspan></text></g>
<g id="n-lsha"><circle class="c ol" cx="2234" cy="1045" r="42"/><text class="t" x="2234" y="1045"><tspan x="2234" dy="-6.5">Lisa</tspan><tspan x="2234" dy="13">Sharma</tspan></text></g>
</g>
</svg>
